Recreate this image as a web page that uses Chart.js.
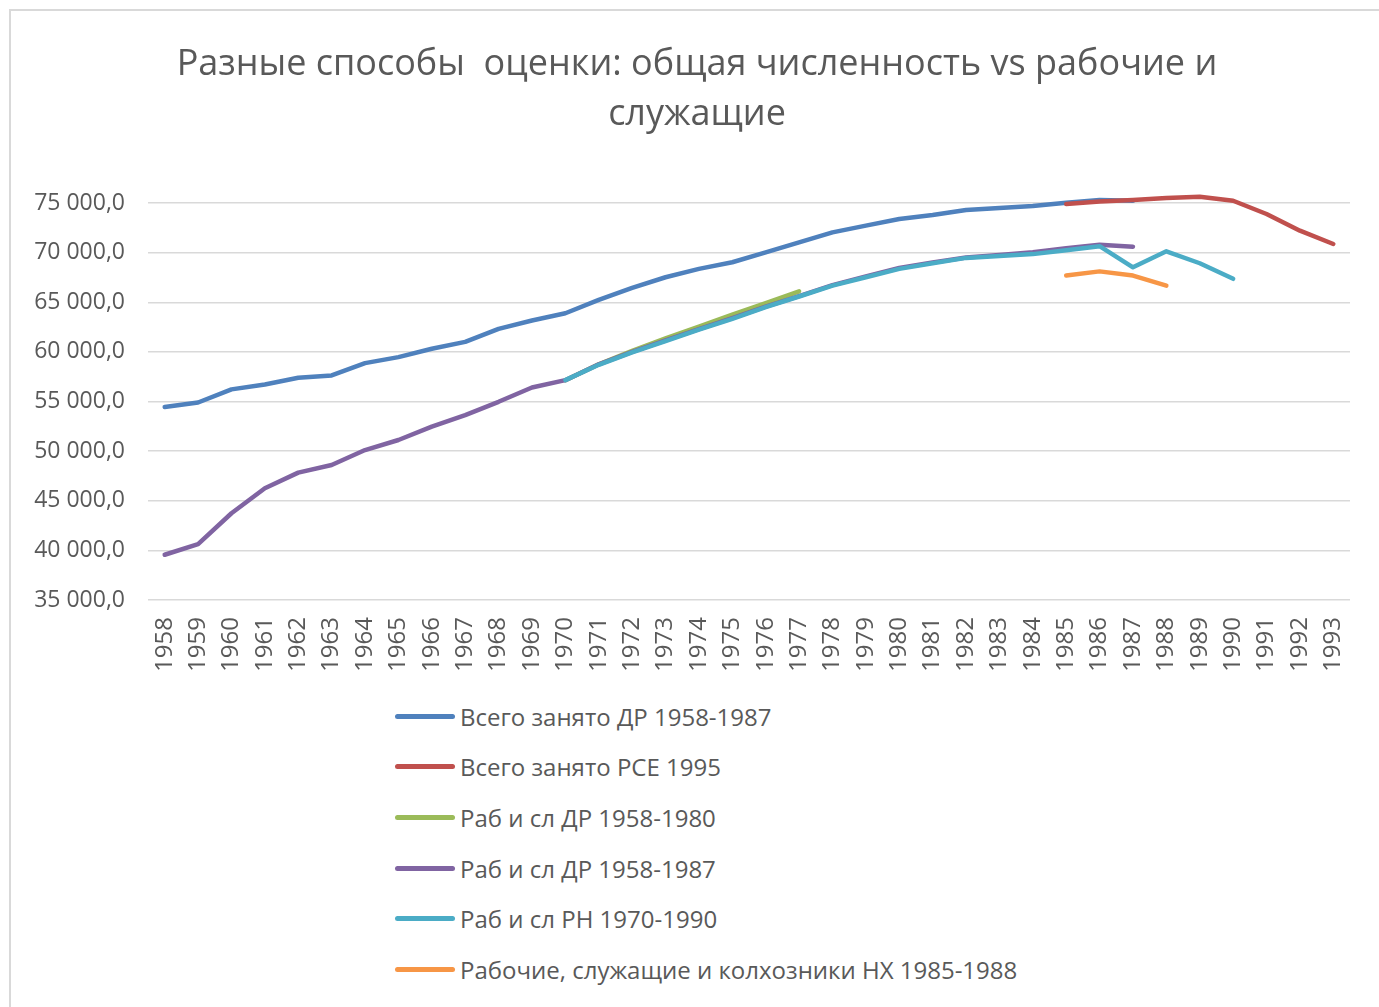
<!DOCTYPE html>
<html>
<head>
<meta charset="utf-8">
<script src="https://cdn.jsdelivr.net/npm/chart.js@4.4.0/dist/chart.umd.min.js"></script>
<style>
    body { margin: 0; background: #ffffff; font-family: "Open Sans", sans-serif; }
    #frame {
        position: absolute; left: 9px; top: 9px; width: 1400px; height: 1020px;
        border-left: 2px solid #d9d9d9; border-top: 2px solid #d9d9d9;
    }
    #chart-div { position: absolute; left: 0px; top: 0px; width: 1373px; height: 679px; }
    #title {
        position: absolute; left: 0px; top: 26px; width: 1372px; text-align: center;
        font-size: 36px; line-height: 50px; color: #595959;
    }
    #legend { position: absolute; left: 384px; top: 680px; }
    .legend-row { height: 50.6px; display: flex; align-items: center; }
    .legend-line { width: 60px; height: 5px; border-radius: 3px; margin-right: 5px; }
    .legend-text { font-size: 24px; color: #595959; white-space: nowrap; }
</style>
</head>
<body>
<div id="frame">
    <div id="chart-div"><canvas id="myChart"></canvas></div>
    <div id="title"></div>
    <div id="legend"></div>
</div>
<script>
// Categories
const years = []
for (let y = 1958; y <= 1993; y++) years.push(String(y))

// Series values (null = no data for that year)
const totalDR = [54440, 54900, 56220, 56720, 57400, 57630, 58870, 59470, 60310, 61010,
    62320, 63160, 63890, 65240, 66450, 67520, 68360, 69030, 70030, 71040,
    72040, 72720, 73390, 73790, 74300, 74500, 74700, 75030, 75300, 75230,
    null, null, null, null, null, null]
const totalPCE = [null, null, null, null, null, null, null, null, null, null,
    null, null, null, null, null, null, null, null, null, null,
    null, null, null, null, null, null, null, 74900, 75160, 75300,
    75500, 75630, 75230, 73890, 72210, 70870]
const workersDR80 = [null, null, null, null, null, null, null, null, null, null,
    null, null, 57150, 58750, 60100, 61350, 62550, 63750, 64900, 66100,
    null, null, null, null, null, null, null, null, null, null,
    null, null, null, null, null, null]
const workersDR87 = [39560, 40620, 43740, 46260, 47830, 48600, 50110, 51120, 52460, 53630,
    54970, 56410, 57150, 58750, 60000, 61150, 62300, 63400, 64550, 65620,
    66720, 67600, 68450, 69000, 69500, 69750, 70050, 70450, 70800, 70600,
    null, null, null, null, null, null]
const workersRN = [null, null, null, null, null, null, null, null, null, null,
    null, null, 57150, 58700, 59950, 61080, 62230, 63330, 64500, 65580,
    66680, 67520, 68360, 68930, 69470, 69670, 69850, 70250, 70650, 68520,
    70130, 68930, 67360, null, null, null]
const workersNX = [null, null, null, null, null, null, null, null, null, null,
    null, null, null, null, null, null, null, null, null, null,
    null, null, null, null, null, null, null, 67690, 68110, 67690,
    66680, null, null, null, null, null]

// Series names and colours
const seriesNames = ["Всего занято ДР 1958-1987", "Всего занято РСЕ 1995", "Раб и сл ДР 1958-1980",
    "Раб и сл ДР 1958-1987", "Раб и сл РН 1970-1990", "Рабочие, служащие и колхозники НХ 1985-1988"]
const seriesColors = ["#4F81BD", "#C0504D", "#9BBB59", "#8064A2", "#4BACC6", "#F79646"]
const seriesData = [totalDR, totalPCE, workersDR80, workersDR87, workersRN, workersNX]

const titleLines = ["Разные способы  оценки: общая численность vs рабочие и", "служащие"]

// Axis tick format like "75 000,0"
function formatTick(value){
    let s = String(Math.round(value)).replace(/\B(?=(\d{3})+(?!\d))/g, "\u00a0")
    return s + ",0"
}

// Build datasets, later series drawn on top
function buildDatasets(){
    let datasets = []
    for (let i = 0; i < seriesData.length; i++){
        datasets.push({
            label: seriesNames[i],
            data: seriesData[i],
            borderColor: seriesColors[i],
            backgroundColor: seriesColors[i],
            borderWidth: 4.5,
            pointRadius: 0,
            tension: 0,
            borderCapStyle: "round",
            borderJoinStyle: "round",
            clip: 10,
            order: seriesData.length - i
        })
    }
    return datasets
}

// Title, two lines
function buildTitle(){
    let title = document.getElementById("title")
    for (let i = 0; i < titleLines.length; i++){
        let line = document.createElement("div")
        line.style.whiteSpace = "pre"
        line.textContent = titleLines[i]
        title.appendChild(line)
    }
}

// Legend as html list
function buildLegend(){
    let legend = document.getElementById("legend")
    for (let i = 0; i < seriesNames.length; i++){
        let row = document.createElement("div")
        row.className = "legend-row"
        let line = document.createElement("div")
        line.className = "legend-line"
        line.style.background = seriesColors[i]
        let text = document.createElement("span")
        text.className = "legend-text"
        text.textContent = seriesNames[i]
        row.appendChild(line)
        row.appendChild(text)
        legend.appendChild(row)
    }
}

function generateLineChart(){
    const config = {
        type: "line",
        data: { labels: years, datasets: buildDatasets() },
        options: {
            responsive: true,
            maintainAspectRatio: false,
            animation: false,
            layout: { padding: { left: 0, right: 34, top: 192, bottom: 0 } },
            plugins: {
                legend: { display: false },
                tooltip: { enabled: false },
                title: { display: false }
            },
            scales: {
                x: {
                    offset: true,
                    grid: { display: false, drawTicks: false },
                    border: { display: false },
                    ticks: {
                        minRotation: 90, maxRotation: 90, autoSkip: false, padding: 17,
                        color: "#595959", font: { family: "Open Sans", size: 24 }
                    },
                    afterFit: function(scale){ scale.height = 90 }
                },
                y: {
                    min: 35000, max: 75000,
                    grid: { color: "#d9d9d9", lineWidth: 1.5, drawTicks: false },
                    border: { display: false },
                    ticks: {
                        stepSize: 5000, padding: 23, color: "#595959",
                        font: { family: "Open Sans", size: 23 },
                        callback: function(value){ return formatTick(value) }
                    },
                    afterFit: function(scale){ scale.width = 137 }
                }
            }
        }
    }
    new Chart(document.getElementById("myChart"), config)
}

document.addEventListener("DOMContentLoaded", function(){
    buildTitle()
    buildLegend()
    generateLineChart()
})
</script>
</body>
</html>
